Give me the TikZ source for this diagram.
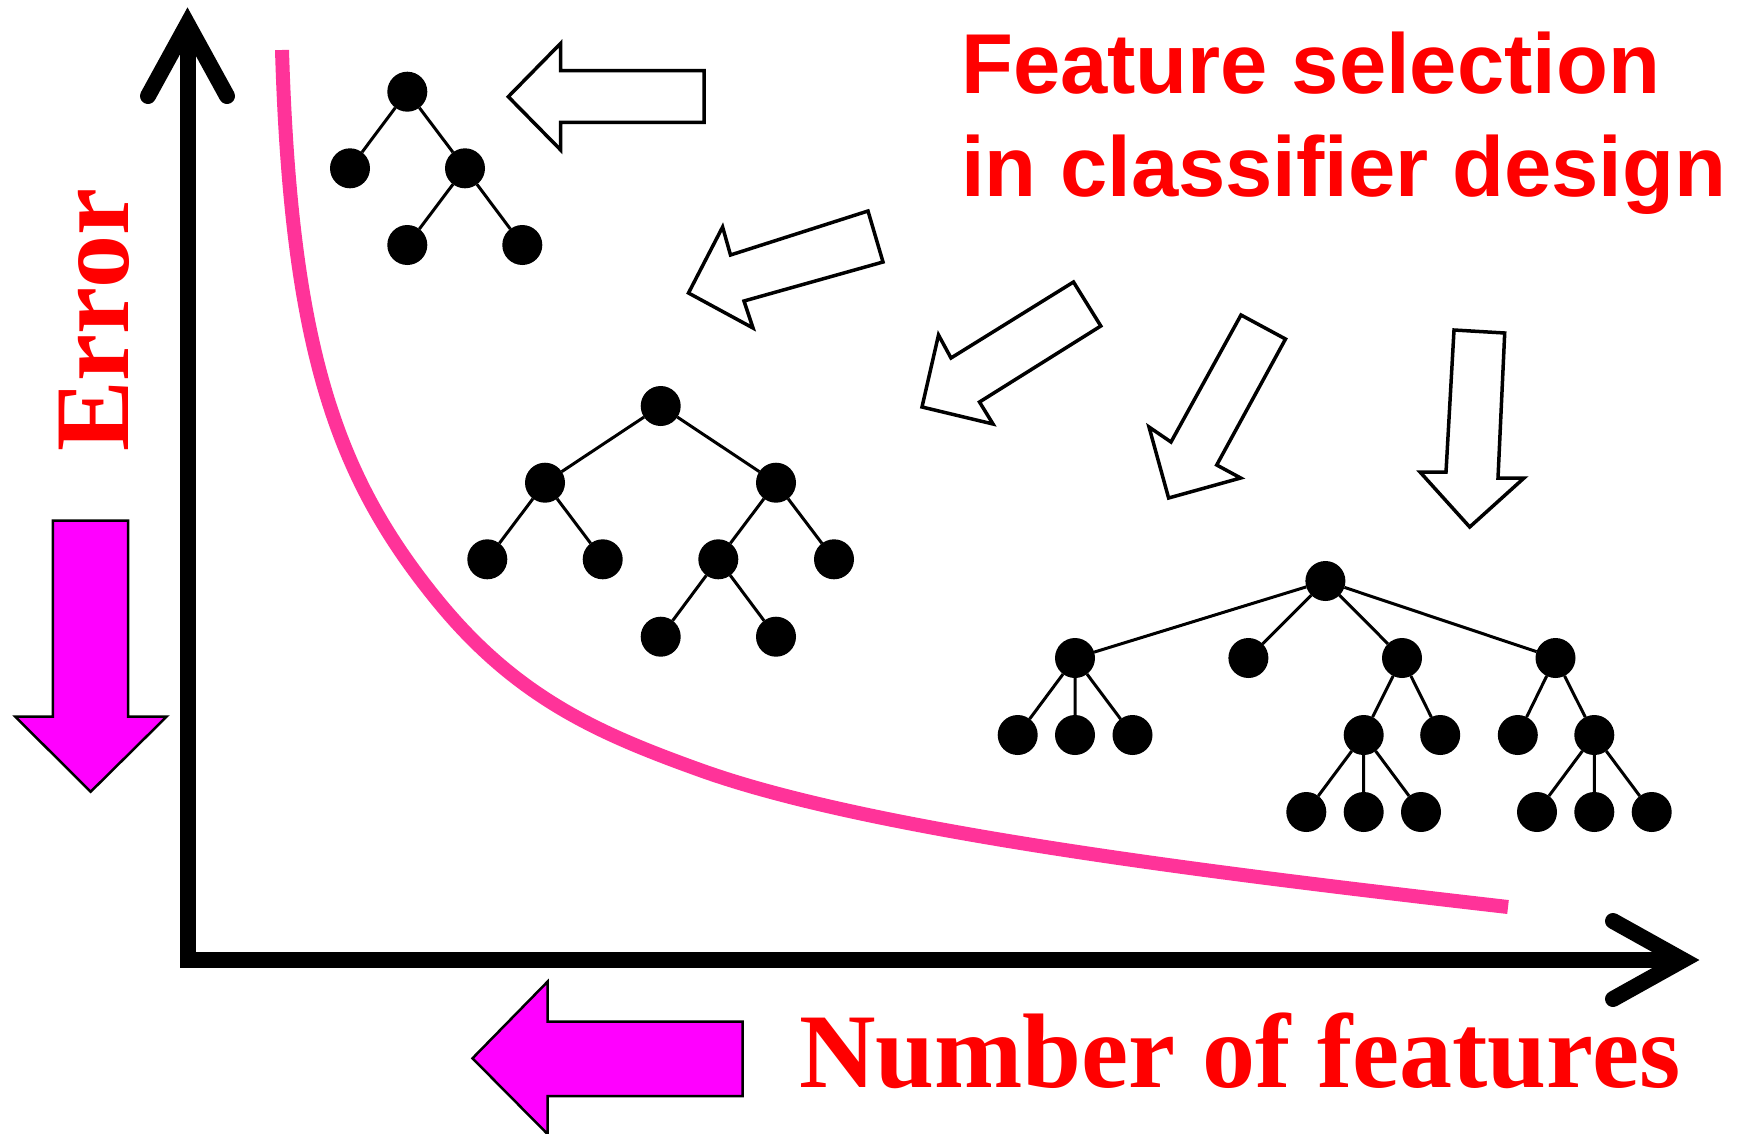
\documentclass[tikz,border=0pt]{standalone}
\usepackage{fontspec}
\newfontfamily\titlefont{Liberation Sans}[Ligatures=NoCommon]
\newfontfamily\labelfont{Liberation Serif}
\definecolor{curvepink}{RGB}{255,51,153}
\definecolor{magentafill}{RGB}{255,0,255}
\definecolor{titlered}{RGB}{255,0,0}
\begin{document}
\begin{tikzpicture}[x=1pt,y=-1pt,
  dot/.style={circle, fill=black, minimum size=40pt, inner sep=0pt, outer sep=0pt},
  treeedge/.style={line width=3pt},
  openarrow/.style={draw=black, fill=white, line width=3.5pt, line join=miter},
  bigarrow/.style={draw=black, fill=magentafill, line width=2.5pt, line join=miter},
  axisline/.style={line width=16pt, line join=miter},
  axishead/.style={line width=16pt, line cap=round, line join=miter},
  errcurve/.style={line width=14pt, draw=curvepink},
  titletext/.style={anchor=base west, inner sep=0pt, text=titlered, font=\titlefont\bfseries\fontsize{85}{100}\selectfont},
  labeltext/.style={anchor=base west, inner sep=0pt, text=titlered, font=\labelfont\bfseries\fontsize{106}{120}\selectfont}
]
\useasboundingbox (0,0) rectangle (1737,1133);

% error curve
\coordinate (cstart) at (282,50);
\coordinate (cknee) at (437,600);
\coordinate (cmid) at (700,770);
\coordinate (cend) at (1508,907);
\draw[errcurve] (cstart) .. controls (291,350) and (337,477) .. (cknee)
  .. controls (517,698.4) and (600,734) .. (cmid)
  .. controls (870,831.2) and (1208,872.5) .. (cend);

% axes
\coordinate (ytip) at (187.5,24);
\coordinate (origin) at (187.5,960);
\coordinate (xtip) at (1683,960);
\coordinate (yb1) at (148,96);
\coordinate (yb2) at (227,96);
\coordinate (xb1) at (1613,921);
\coordinate (xb2) at (1613,999);
\draw[axisline] (ytip) -- (origin) -- (xtip);
\draw[axishead] (yb1) -- (ytip) -- (yb2);
\draw[axishead] (xb1) -- (xtip) -- (xb2);

% tree 1
\node[dot] (a0) at (407.3,91.7) {};
\node[dot] (a1) at (350,168.3) {};
\node[dot] (a2) at (465,168.3) {};
\node[dot] (a3) at (407.3,245) {};
\node[dot] (a4) at (522.3,245) {};
\draw[treeedge] (a0) -- (a1) (a0) -- (a2) (a2) -- (a3) (a2) -- (a4);

% tree 2
\node[dot] (b0) at (660.7,406) {};
\node[dot] (b1) at (545,482.7) {};
\node[dot] (b2) at (776,482.7) {};
\node[dot] (b3) at (487.3,559.3) {};
\node[dot] (b4) at (602.7,559.3) {};
\node[dot] (b5) at (718.3,559.3) {};
\node[dot] (b6) at (834,559.3) {};
\node[dot] (b7) at (660.7,636.7) {};
\node[dot] (b8) at (776,636.7) {};
\draw[treeedge] (b0) -- (b1) (b0) -- (b2) (b1) -- (b3) (b1) -- (b4)
  (b2) -- (b5) (b2) -- (b6) (b5) -- (b7) (b5) -- (b8);

% tree 3
\node[dot] (c0) at (1325.4,581) {};
\node[dot] (c1) at (1075,658) {};
\node[dot] (c2) at (1248.4,658) {};
\node[dot] (c3) at (1402,658) {};
\node[dot] (c4) at (1555.5,658) {};
\node[dot] (c5) at (1017.7,735) {};
\node[dot] (c6) at (1075,735) {};
\node[dot] (c7) at (1132.5,735) {};
\node[dot] (c8) at (1363.7,735) {};
\node[dot] (c9) at (1440.2,735) {};
\node[dot] (c10) at (1517.8,735) {};
\node[dot] (c11) at (1594.3,735) {};
\node[dot] (c12) at (1306.3,812) {};
\node[dot] (c13) at (1363.7,812) {};
\node[dot] (c14) at (1421,812) {};
\node[dot] (c15) at (1537,812) {};
\node[dot] (c16) at (1594.3,812) {};
\node[dot] (c17) at (1651.7,812) {};
\draw[treeedge] (c0) -- (c1) (c0) -- (c2) (c0) -- (c3) (c0) -- (c4)
  (c1) -- (c5) (c1) -- (c6) (c1) -- (c7)
  (c3) -- (c8) (c3) -- (c9)
  (c4) -- (c10) (c4) -- (c11)
  (c8) -- (c12) (c8) -- (c13) (c8) -- (c14)
  (c11) -- (c15) (c11) -- (c16) (c11) -- (c17);

% open arrows
\draw[openarrow] (508.3,96.7) -- (560.7,43.3) -- (560.7,70.7) -- (704,70.7)
  -- (704,122.3) -- (560.7,122.3) -- (560.7,150) -- cycle;
\draw[openarrow] (688.5,293) -- (722.6,227) -- (730.5,255) -- (868,211)
  -- (883,262) -- (744,301) -- (753,328) -- cycle;
\draw[openarrow] (922,407) -- (938.5,335) -- (951,358) -- (1073.5,282)
  -- (1100.8,326) -- (979.5,402) -- (993,424) -- cycle;
\draw[openarrow] (1168.6,498) -- (1149,427) -- (1171,442) -- (1241,315)
  -- (1285.5,339) -- (1216.7,465) -- (1240.7,478) -- cycle;
\draw[openarrow] (1469.7,527) -- (1420,472) -- (1446,472) -- (1454,330)
  -- (1504.7,333) -- (1498,478) -- (1524,478) -- cycle;

% magenta arrows
\draw[bigarrow] (52.8,520.7) -- (128.2,520.7) -- (128.2,716.7) -- (166.5,716.7)
  -- (90.7,791.7) -- (15.3,716.7) -- (52.8,716.7) -- cycle;
\draw[bigarrow] (742.7,1021.7) -- (547.5,1021.7) -- (547.5,981.7) -- (472.5,1058.3)
  -- (547.5,1134) -- (547.5,1096) -- (742.7,1096) -- cycle;

% texts
\node[titletext] (t1) at (961,93) {Feature selection};
\node[titletext] (t2) at (961,196) {in classifier design};
\node[labeltext] (xl) at (799,1087) {Number of features};
\node[labeltext, rotate=90] (yl) at (128.5,452) {Error};
\end{tikzpicture}
\end{document}
